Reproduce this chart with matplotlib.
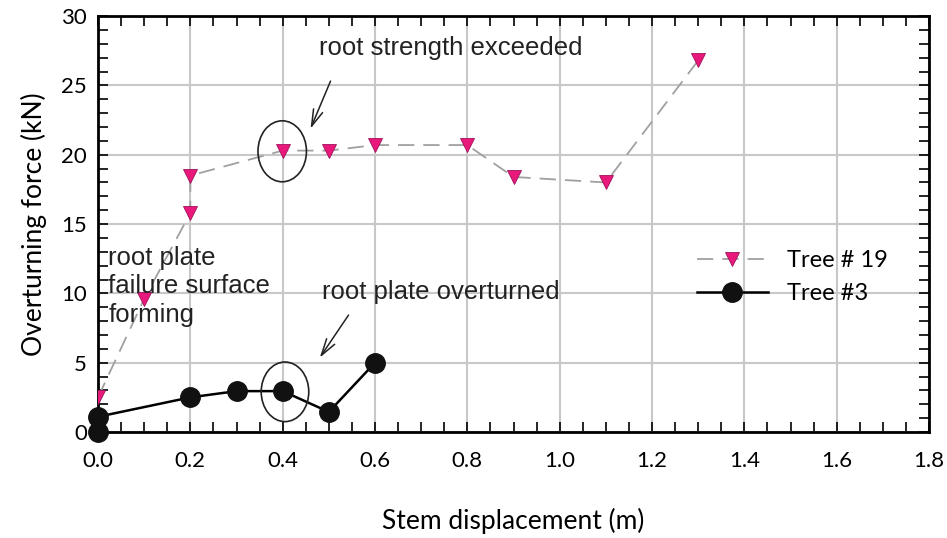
import matplotlib.pyplot as plt
from matplotlib.patches import Ellipse
from matplotlib.ticker import MultipleLocator

# data
x19 = [0.0, 0.1, 0.2, 0.2, 0.4, 0.5, 0.6, 0.8, 0.9, 1.1, 1.3]
y19 = [2.5, 9.6, 15.8, 18.5, 20.3, 20.3, 20.7, 20.7, 18.4, 18.0, 26.8]
x3 = [0.0, 0.0, 0.2, 0.3, 0.4, 0.5, 0.6]
y3 = [0.0, 1.1, 2.5, 2.95, 2.95, 1.45, 5.0]

label_font = ['Lato', 'DejaVu Sans']
note_font = ['Liberation Sans', 'DejaVu Sans']

fig = plt.figure(figsize=(9.47, 5.38), dpi=100)
ax = fig.add_axes([0.1035, 0.197, 0.8775, 0.773])

ax.set_xlim(0, 1.8)
ax.set_ylim(0, 30)
ax.xaxis.set_major_locator(MultipleLocator(0.2))
ax.xaxis.set_minor_locator(MultipleLocator(0.05))
ax.yaxis.set_major_locator(MultipleLocator(5))
ax.yaxis.set_minor_locator(MultipleLocator(1))
ax.grid(True, which='major', color='#c8c8c8', linewidth=1.5, zorder=0)
ax.tick_params(which='both', direction='in', top=True, right=True, color='black')
ax.tick_params(which='major', length=7, width=1.2, labelsize=16)
ax.tick_params(which='minor', length=7, width=1.2)
ax.tick_params(axis='x', which='major', pad=14)
ax.tick_params(axis='y', which='major', pad=8)
for s in ax.spines.values():
    s.set_linewidth(2)
for lab in ax.get_xticklabels() + ax.get_yticklabels():
    lab.set_family(label_font)
ax.xaxis.set_major_formatter(plt.FuncFormatter(lambda v, p: f'{v:.1f}'))
ax.yaxis.set_major_formatter(plt.FuncFormatter(lambda v, p: f'{v:.0f}'))

ax.axvline(0.4, color='#777777', linestyle=':', linewidth=1.2, zorder=1)

ax.plot(x19, y19, linestyle=(0, (9, 5)), color='#a0a0a0', linewidth=1.3,
        marker='v', markersize=10, markerfacecolor='#e8197a',
        markeredgecolor='#a0105a', markeredgewidth=0.6, label='Tree # 19', zorder=3)
ax.plot(x3, y3, '-', color='black', linewidth=1.8, marker='o', markersize=14,
        markerfacecolor='#111111', markeredgecolor='#111111', label='Tree #3',
        clip_on=False, zorder=4)

ax.add_patch(Ellipse((0.399, 20.25), 0.105, 4.4, fill=False, edgecolor='#222222', linewidth=1.2, zorder=5))
ax.add_patch(Ellipse((0.405, 2.9), 0.103, 4.3, fill=False, edgecolor='#222222', linewidth=1.2, zorder=5))

arrow = dict(arrowstyle='->,head_length=1.2,head_width=0.35', color='#222222', linewidth=1.1)
ax.annotate('', xy=(0.458, 21.7), xytext=(0.506, 25.5), arrowprops=arrow)
ax.annotate('', xy=(0.477, 5.2), xytext=(0.546, 8.6), arrowprops=arrow)

ax.text(0.478, 27.7, 'root strength exceeded', fontsize=18.5, family=note_font,
        color='#222222', va='center')
ax.text(0.486, 10.1, 'root plate overturned', fontsize=18.5, family=note_font,
        color='#222222', va='center')
ax.text(0.022, 10.5, 'root plate\nfailure surface\nforming', fontsize=18.5,
        family=note_font, color='#222222', va='center', linespacing=1.25)

leg = ax.legend(loc='center left', bbox_to_anchor=(0.695, 0.372), frameon=False,
                prop={'family': label_font, 'size': 17}, handlelength=3.0,
                labelspacing=0.5, handletextpad=0.8)

ax.set_xlabel('Stem displacement (m)', fontsize=19, family=label_font, labelpad=26)
ax.set_ylabel('Overturning force (kN)', fontsize=19, family=label_font, labelpad=10)

fig.savefig('out.png', dpi=100)
